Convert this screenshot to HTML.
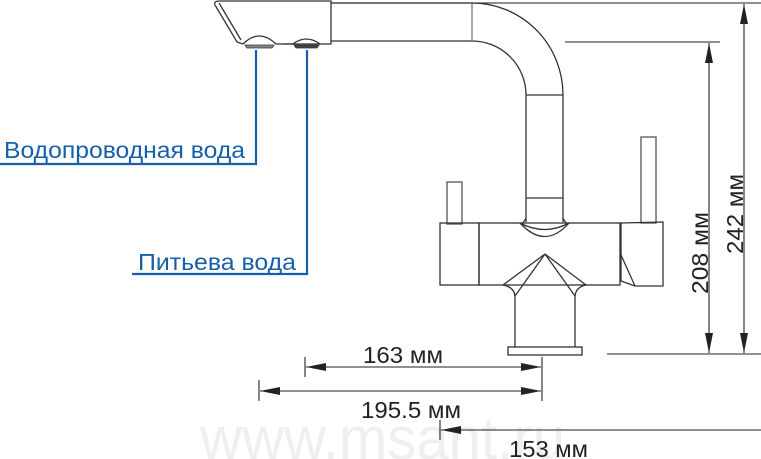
<!DOCTYPE html>
<html><head><meta charset="utf-8"><style>
html,body{margin:0;padding:0;background:#fff;width:761px;height:459px;overflow:hidden}
svg{display:block}
text{font-family:"Liberation Sans",Arial,sans-serif}
</style></head><body>
<svg width="761" height="459" viewBox="0 0 761 459" xmlns="http://www.w3.org/2000/svg">
<defs>
<marker id="a" viewBox="0 0 20 8" refX="20" refY="4" markerWidth="20" markerHeight="8" markerUnits="userSpaceOnUse" orient="auto-start-reverse"><path d="M0,0 L20,4 L0,8 Z" fill="#222"/></marker>
</defs>
<text x="200" y="459" font-size="60" fill="#efefef" textLength="365" lengthAdjust="spacingAndGlyphs">www.msant.ru</text>
<g fill="none" stroke="#333" stroke-width="1.3">
<path d="M215,5 Q213,1 220,1 L331,1 L331,44 L283,44"/>
<path d="M215,5 L237,42 L243,44"/>
<path d="M219,3 L241,40"/>
<path d="M243,44 Q259,28 276,44 L293,44"/>
<path d="M293,44 Q306,34 320,44"/>
<path d="M245,45 L274,45 L272,48 L247,48 Z" fill="#888" stroke-width="0.8"/>
<path d="M294,45 L319,45 L317,48 L296,48 Z" fill="#444" stroke-width="0.8"/>
<path d="M331,3 L472,3 A91,92 0 0 1 563,95 L563,222"/>
<path d="M331,41 L472,41 A54,54 0 0 1 526,95 L526,222"/>
<line x1="472" y1="3" x2="472" y2="41" stroke="#777"/>
<line x1="526" y1="95" x2="563" y2="95"/>
<line x1="526" y1="198" x2="563" y2="198"/>
<rect x="447" y="182" width="15" height="42" stroke="#555"/>
<rect x="641" y="137" width="15" height="86" stroke="#555"/>
<rect x="440" y="223" width="39" height="62"/>
<rect x="479" y="223" width="141" height="62"/>
<path d="M621,223 L663,222 L663,286 L635,286 L621,281 Z"/>
<path d="M621,255 L635,286"/>
<path d="M520,223 Q545,236 569,223"/>
<path d="M520,223 Q522,226 526,218 M563,218 Q567,226 569,223" />
<path d="M520,223 Q545,250 569,223" />
<path d="M545,254 L503,285 Q514,287 515,296"/>
<path d="M545,254 L515,296"/>
<path d="M545,254 L575,296"/>
<path d="M545,254 L586,285 Q576,287 575,296"/>
<path d="M515,296 L515,347 M575,296 L575,347"/>
<rect x="508" y="347" width="74" height="8"/>
</g>
<g fill="none" stroke="#1560a8" stroke-width="2.2">
<path d="M256,50 L256,164 L0,164"/>
<path d="M307,50 L307,274 L132,274"/>
</g>
<text x="4" y="158" font-size="23" fill="#1560a8" textLength="241" lengthAdjust="spacingAndGlyphs">Водопроводная вода</text>
<text x="138" y="270" font-size="23" fill="#1560a8" textLength="158" lengthAdjust="spacingAndGlyphs">Питьева вода</text>
<g stroke="#222" stroke-width="1.1" fill="none">
<line x1="331" y1="3" x2="761" y2="3"/>
<line x1="565" y1="42" x2="720" y2="42"/>
<line x1="607" y1="354" x2="761" y2="354"/>
<line x1="709" y1="43" x2="709" y2="353" marker-start="url(#a)" marker-end="url(#a)"/>
<line x1="744" y1="4" x2="744" y2="353" marker-start="url(#a)" marker-end="url(#a)"/>
<line x1="306" y1="367" x2="541" y2="367" marker-start="url(#a)" marker-end="url(#a)"/>
<line x1="260" y1="391" x2="541" y2="391" marker-start="url(#a)" marker-end="url(#a)"/>
<line x1="441" y1="430" x2="761" y2="430" marker-start="url(#a)"/>
<line x1="305" y1="357" x2="305" y2="377"/>
<line x1="542" y1="357" x2="542" y2="401"/>
<line x1="259" y1="380" x2="259" y2="401"/>
<line x1="440" y1="420" x2="440" y2="440"/>
</g>
<g font-size="23" fill="#222">
<text x="363" y="363" textLength="80" lengthAdjust="spacingAndGlyphs">163 мм</text>
<text x="361" y="418" textLength="100" lengthAdjust="spacingAndGlyphs">195.5 мм</text>
<text x="509" y="457" textLength="79" lengthAdjust="spacingAndGlyphs">153 мм</text>
<text transform="translate(708,294) rotate(-90)" textLength="82" lengthAdjust="spacingAndGlyphs">208 мм</text>
<text transform="translate(743,254) rotate(-90)" textLength="80" lengthAdjust="spacingAndGlyphs">242 мм</text>
</g>
</svg>
</body></html>
